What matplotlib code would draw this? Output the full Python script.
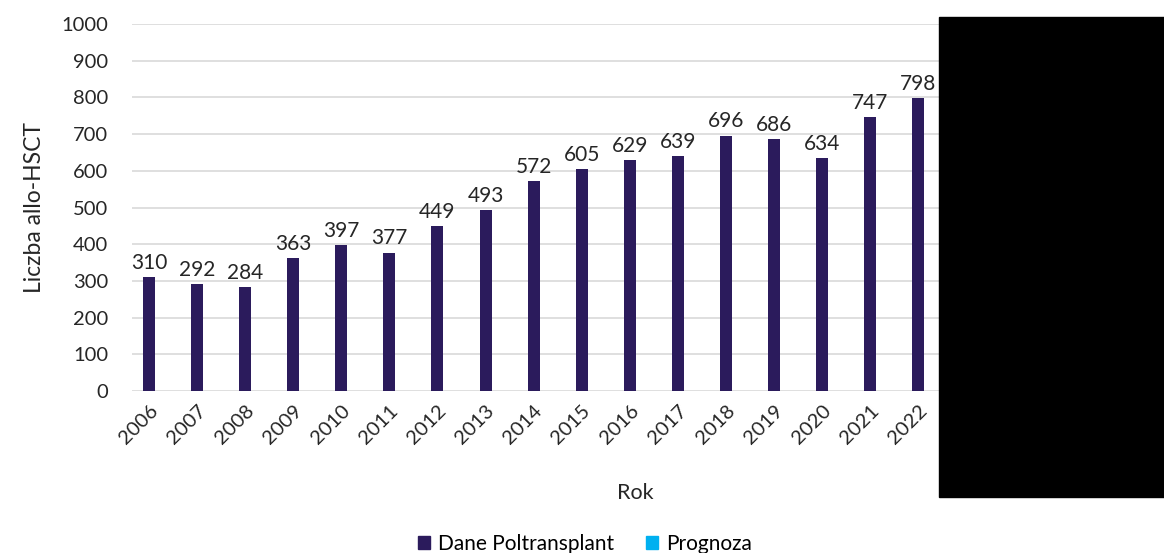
import matplotlib.pyplot as plt
from matplotlib.patches import Rectangle, Patch

# dane
lata = ['2006', '2007', '2008', '2009', '2010', '2011', '2012', '2013', '2014',
        '2015', '2016', '2017', '2018', '2019', '2020', '2021', '2022']
liczba = [310, 292, 284, 363, 397, 377, 449, 493, 572, 605, 629, 639, 696, 686, 634, 747, 798]
prognoza_lata = []
prognoza = []

plt.rcParams['font.family'] = ['Lato', 'DejaVu Sans']

fig = plt.figure(figsize=(11.64, 5.53), dpi=100)
ax = fig.add_axes([132 / 1164, 162 / 553, 1028 / 1164, 367 / 553])

x = list(range(len(lata)))
ax.bar(x, liczba, width=0.25, color='#2B1B5C', label='Dane Poltransplant', zorder=3)
ax.bar(prognoza_lata, prognoza, width=0.25, color='#00B0F0', label='Prognoza', zorder=3)

for xi, v in zip(x, liczba):
    ax.annotate(str(v), (xi, v), xytext=(0, 3), textcoords='offset points',
                ha='center', va='bottom', fontsize=15, color='#262626', annotation_clip=False)

ax.set_xlim(-0.354, 21.03)
ax.set_ylim(0, 1000)
ax.set_yticks(range(0, 1001, 100))
ax.set_xticks(x)
ax.set_xticklabels(lata, rotation=45, ha='right', rotation_mode='anchor')
ax.tick_params(axis='both', length=0, labelsize=14.5, labelcolor='#262626')
ax.tick_params(axis='y', pad=17)
ax.tick_params(axis='x', pad=8)
ax.grid(axis='y', color='#D9D9D9', linewidth=1.2, zorder=0)
for s in ax.spines.values():
    s.set_visible(False)

ax.set_ylabel('Liczba allo-HSCT', fontsize=16.5, color='#262626', labelpad=12)
fig.text(635 / 1164, 1 - 493 / 553, 'Rok', fontsize=15.5, color='#262626', ha='center', va='center')

handles = [Patch(color='#2B1B5C'), Patch(color='#00B0F0')]
fig.legend(handles, ['Dane Poltransplant', 'Prognoza'], loc='center', ncol=2,
           bbox_to_anchor=(585 / 1164, 1 - 544 / 553), frameon=False, fontsize=15,
           handlelength=0.6, handleheight=0.6, columnspacing=1.5, handletextpad=0.4)

# zaciemniony obszar
fig.patches.append(Rectangle((939 / 1164, 56 / 553), 1 - 939 / 1164, 480 / 553,
                             transform=fig.transFigure, color='black', zorder=10))

fig.savefig('out.png', dpi=100)
